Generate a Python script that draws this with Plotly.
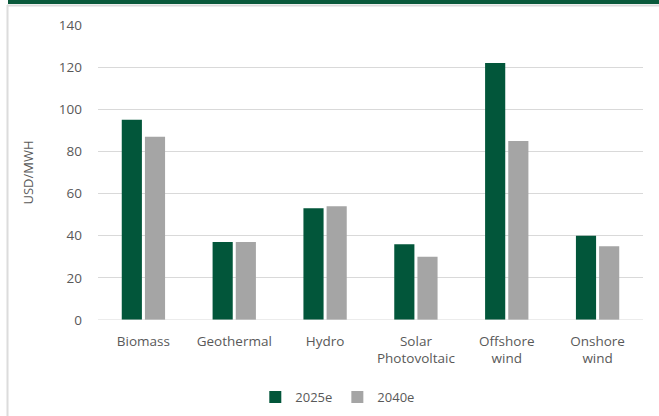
import plotly.graph_objects as go

categories = ["Biomass", "Geothermal", "Hydro", "Solar<br>Photovoltaic", "Offshore<br>wind", "Onshore<br>wind"]
series_names = ["2025e", "2040e"]
values_2025 = [95, 37, 53, 36, 122, 40]
values_2040 = [87, 37, 54, 30, 85, 35]
y_ticks = [0, 20, 40, 60, 80, 100, 120, 140]

GREEN = "#02563A"
GRAY = "#A5A5A5"
TEXT = "#595959"

W, H = 659, 416
L, R, T, B = 98, 16, 25, 96
pw, ph = W - L - R, H - T - B


def px(x):
    return (x - L) / pw


def py(y):
    return (H - B - y) / ph


fig = go.Figure()
fig.add_trace(go.Bar(x=categories, y=values_2025, name=series_names[0],
                     marker=dict(color=GREEN, line=dict(width=0))))
fig.add_trace(go.Bar(x=categories, y=values_2040, name=series_names[1],
                     marker=dict(color=GRAY, line=dict(width=0))))

shapes = [
    # dark green header band
    dict(type="rect", xref="paper", yref="paper", x0=px(8), x1=px(W + 2),
         y0=py(4), y1=py(-2), fillcolor="#0A5A3C", line=dict(width=0), layer="above"),
    # light frame edges
    dict(type="line", xref="paper", yref="paper", x0=px(7), x1=px(W + 2),
         y0=py(5.5), y1=py(5.5), line=dict(color="#DCDCDC", width=2)),
    dict(type="line", xref="paper", yref="paper", x0=px(7.5), x1=px(7.5),
         y0=py(5), y1=py(H + 2), line=dict(color="#DCDCDC", width=2)),
    # category axis baseline
    dict(type="line", xref="paper", yref="y", x0=0, x1=1, y0=0, y1=0,
         line=dict(color="#D9D9D9", width=1)),
]

fig.update_layout(
    width=W, height=H,
    margin=dict(l=L, r=R, t=T, b=B, pad=0, autoexpand=False),
    paper_bgcolor="white", plot_bgcolor="white",
    barmode="group", bargap=0.49, bargroupgap=0.13,
    font=dict(family="Open Sans, DejaVu Sans, sans-serif", size=13, color=TEXT),
    shapes=shapes,
    showlegend=True,
    legend=dict(orientation="h", x=0.44, xanchor="center", y=py(397), yanchor="middle",
                font=dict(size=13, color=TEXT), itemwidth=30, traceorder="normal",
                tracegroupgap=0, bgcolor="rgba(0,0,0,0)"),
)
fig.update_yaxes(range=[0, 140], tickvals=y_ticks, showgrid=True, gridcolor="#D9D9D9",
                 gridwidth=1, zeroline=False, showline=False, ticks="",
                 ticklabelstandoff=15, automargin=False, tickfont=dict(size=13.5),
                 title=dict(text="USD/MWH", font=dict(size=13, color=TEXT), standoff=22))
fig.update_xaxes(showline=False, ticks="", tickangle=0, ticklabelstandoff=11,
                 automargin=False, tickfont=dict(size=13.5))

fig.write_html("out.html")
